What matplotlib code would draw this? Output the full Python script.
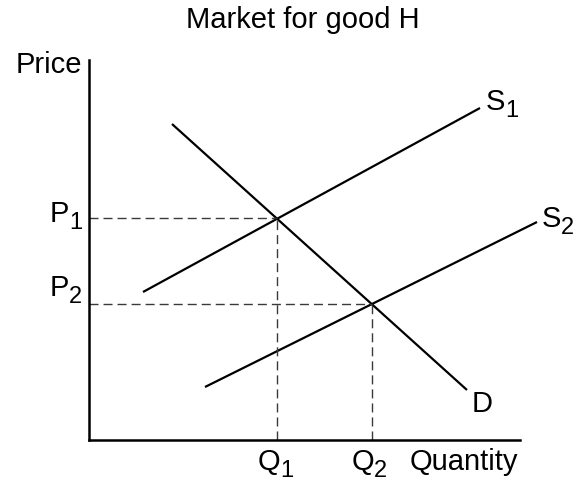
import matplotlib
matplotlib.use('Agg')
import matplotlib.pyplot as plt

plt.rcParams['font.family'] = ['Liberation Sans', 'DejaVu Sans']

# curve end points (quantity, price) in axis units
demand_q = [8.3, 37.8]
demand_p = [31.6, 5.0]
s1_q = [5.4, 39.1]
s1_p = [14.8, 33.2]
s2_q = [11.6, 44.8]
s2_p = [5.3, 21.8]

# equilibria
eq_q = [18.8, 28.3]
eq_p = [22.2, 13.6]

title = 'Market for good H'
fs = 21
sub_fs = 17

fig = plt.figure(figsize=(5.81, 4.82), dpi=100)
ax = fig.add_axes([89/581, 42/482, 492/581, 440/482])
ax.set_xlim(0, 49.2)
ax.set_ylim(0, 44.0)
for s in ['top', 'right']:
    ax.spines[s].set_visible(False)
for s in ['left', 'bottom']:
    ax.spines[s].set_linewidth(1.8)
ax.spines['left'].set_bounds(0, 38)
ax.spines['bottom'].set_bounds(0, 43.1)
ax.set_xticks([]); ax.set_yticks([])
ax.patch.set_visible(False)

lw = 1.6
ax.plot(demand_q, demand_p, color='black', lw=lw, clip_on=False, solid_capstyle='butt')
ax.plot(s1_q, s1_p, color='black', lw=lw, clip_on=False, solid_capstyle='butt')
ax.plot(s2_q, s2_p, color='black', lw=lw, clip_on=False, solid_capstyle='butt')

for q, p in zip(eq_q, eq_p):
    ax.plot([0, q], [p, p], color='#3a3a3a', lw=1.0, dashes=(6.5, 3.6), clip_on=False)
    ax.plot([q, q], [0, p], color='#3a3a3a', lw=1.0, dashes=(6.5, 3.6), clip_on=False)


def label(x, y, main, sub=None):
    t = ax.text(x, y, main, fontsize=fs, ha='left', va='baseline')
    if sub:
        ax.annotate(sub, xy=(1, 0), xycoords=t, xytext=(-0.3, -0.8),
                    textcoords='offset points', fontsize=sub_fs,
                    ha='left', va='baseline')
    return t


label(-3.9, 21.8, 'P', '1')
label(-3.9, 14.4, 'P', '2')
label(16.9, -3.0, 'Q', '1')
label(26.3, -3.0, 'Q', '2')
label(32.1, -3.0, 'Quantity')
label(38.3, 2.8, 'D')
label(39.7, 33.0, 'S', '1')
label(45.3, 21.3, 'S', '2')
ax.text(-0.7, 36.7, 'Price', fontsize=fs, ha='right', va='baseline')

fig.text(303/581, 1 - 28/482, title, fontsize=fs, ha='center', va='baseline')

plt.savefig('out.png', dpi=100)
plt.close()
